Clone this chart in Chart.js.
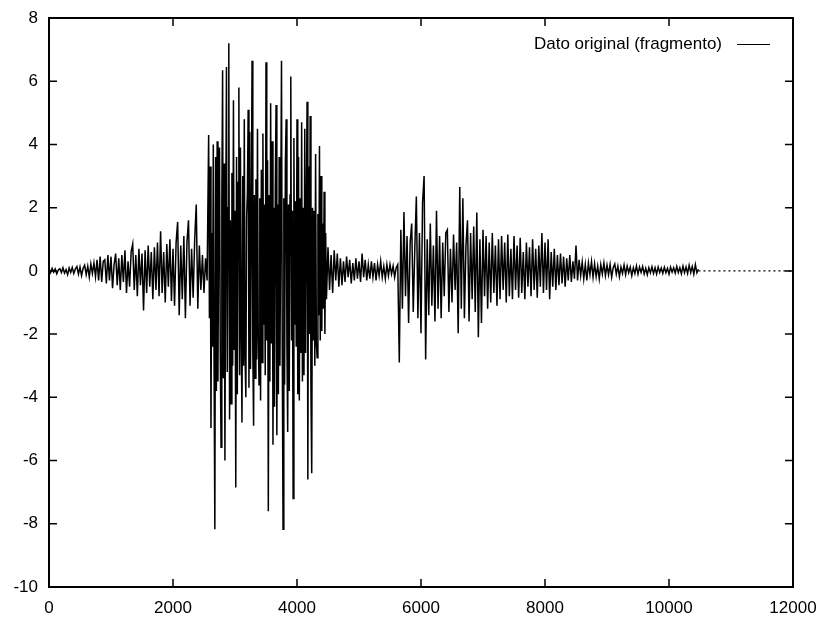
<!DOCTYPE html>
<html lang="es">
<head>
<meta charset="UTF-8">
<title>Dato original (fragmento)</title>
<script src="https://cdn.jsdelivr.net/npm/chart.js"></script>
<style>
    body { margin: 0; background: #fff; }
    #caja { width: 823px; height: 619px; }
</style>
</head>
<body>
<div id="caja"><canvas id="senalChart"></canvas></div>

<script>
    const finEje = 12000;

    // 0 .. 875, cada 25
    const silencioInicial = [
        0.05, -0.06, 0.08, -0.04, 0.06, -0.09, 0.03, 0.07, -0.05, 0.1,
        -0.07, 0.04, -0.12, 0.09, -0.05, 0.11, -0.08, 0.06, 0.14, -0.1,
        0.12, -0.15, 0.08, 0.18, -0.12, 0.15, -0.2, 0.22, -0.08, 0.25,
        -0.18, 0.35, -0.3, 0.45, -0.35, 0.3
    ];
    // 900 .. 2550, cada 25
    const fricativa = [
        0.35, -0.4, 0.5, -0.3, 0.45, -0.55, 0.2, 0.55, -0.45, 0.4,
        -0.6, 0.5, -0.35, 0.65, -0.7, 0.3, -0.5, 0.6, 0.85, -0.6,
        0.5, -0.8, 0.7, -0.45, 0.55, -1.25, 0.65, -0.7, 0.8, -0.5,
        0.6, -0.9, 0.75, -0.6, 0.9, -0.8, 1.25, -0.7, 0.6, -1.0,
        0.85, -0.5, 1.0, -0.95, 0.7, -1.1, 0.9, 1.55, -1.4, 0.8,
        -0.9, 1.1, -1.5, 0.9, 1.6, -1.1, 0.7, -0.85, 1.0, 2.1,
        -1.2, 0.8, -0.6, 0.5, -0.7, 0.4, -0.3
    ];
    // 2575 .. 4475, cada 12.5
    const vocalA = [
        4.3, -1.5, 3.3, -4.97, 1.2, -2.4, 4.0, -3.0,
        -8.17, 3.6, -3.8, 4.1, -3.5, 1.8, 3.9, -2.6,
        -5.58, 2.2, 6.35, -3.4, 3.4, -6.0, 1.4, 6.45,
        -3.2, 2.0, 7.2, -4.7, 1.6, -4.2, 3.1, -3.0,
        5.4, -2.5, 1.9, -6.85, 3.6, -3.9, 2.8, 5.8,
        -3.3, 3.9, -1.8, -4.8, 3.0, -3.0, 4.8, -2.7,
        -4.0, 1.7, 2.5, 5.1, -3.7, 4.4, -3.1, 1.5,
        6.65, -2.6, -4.9, 2.4, -3.4, 2.9, -2.8, 4.5,
        -2.0, -3.6, 2.3, -4.1, 3.2, -2.9, 4.35, -1.7,
        2.1, -3.3, 6.6, -2.2, 3.5, -7.6, 2.4, -3.5,
        5.3, -2.3, 4.1, -5.5, 2.0, -4.3, 2.6, 5.25,
        -5.2, 2.1, -3.9, 3.6, -3.0, 1.8, 6.65, -2.5,
        -8.17, 2.3, -3.6, 3.4, 4.8, -2.4, -5.1, 2.1,
        -3.8, 2.4, 6.15, -2.2, 1.9, -7.2, 4.2, -1.7,
        2.2, -2.4, 4.8, -3.9, 3.6, -4.1, 2.3, -2.6,
        4.7, -3.5, 2.0, -3.3, 4.5, -2.6, 1.9, 5.35,
        -6.6, 3.3, -2.0, 4.9, -3.8, -6.4, 2.0, -2.2,
        1.9, -3.0, 3.7, -2.3, -2.75, 1.8, -1.4, 3.95,
        -2.2, 3.0, -1.9, 1.5, -1.2, 2.5, -2.0, 1.2,
        -0.9
    ];
    // 4500 .. 5600, cada 25
    const transicion = [
        0.75, -0.6, 0.5, -0.7, 0.65, -0.3, 0.55, -0.5, 0.4,
        -0.45, 0.3, -0.35, 0.45, -0.2, 0.35, -0.4, 0.25, -0.3, 0.4,
        -0.25, 0.3, -0.35, 0.55, -0.2, 0.35, -0.3, 0.2, -0.25, 0.3,
        -0.2, 0.25, -0.3, 0.2, -0.15, 0.3, -0.2, 0.15, -0.25, 0.2,
        -0.15, 0.2, -0.1, 0.15, -0.2, 0.1
    ];
    // 5625 .. 8500, cada 25
    const vocalB = [
        0.2, -2.9, 1.3, -1.2, 1.86, -0.8, 1.1, -1.65, 0.9, 1.5,
        -1.3, 0.7, 2.35, -1.5, 1.2, -1.97, 2.15, 3.0, -2.8, 1.0,
        -1.4, 1.5, -1.1, 0.8, -1.6, 1.9, -1.2, 1.1, -1.5, 0.9,
        -0.8, 1.2, 1.3, -1.3, 0.7, -1.0, 1.15, -0.6, 0.9, -1.97,
        2.65, -1.2, 2.3, -1.5, 0.8, 1.6, -1.6, 1.2, -0.9, 1.4,
        -1.3, 1.85, -2.1, 1.0, -1.65, 1.3, -0.8, 1.1, -1.2, 0.9,
        -1.0, 1.2, -0.7, 0.8, -1.1, 1.0, -0.9, 1.1, -0.6, 0.9,
        -1.0, 1.15, -0.8, 0.7, -0.9, 1.1, -0.6, 0.8, -0.85, 1.05,
        -0.7, 0.6, -0.9, 0.9, -0.5, 0.75, -0.8, 1.0, -0.6, 0.7,
        -0.85, 0.8, -0.5, 1.2, -0.7, 0.9, -0.6, 1.0, -0.9, 0.6,
        -0.5, 0.7, -0.6, 0.5, -0.45, 0.55, -0.4, 0.45, -0.5, 0.4,
        -0.3, 0.5, -0.35, 0.3, -0.25, 0.8
    ];
    // 8525 .. 10475, cada 25
    const cola = [
        -0.3, 0.35, -0.15, 0.28, -0.25, 0.2, -0.3, 0.25, -0.12, 0.3,
        -0.2, 0.22, -0.18, 0.15, -0.25, 0.2, -0.1, 0.25, -0.15, 0.18,
        -0.12, 0.2, -0.2, 0.1, 0.22, -0.1, 0.15, -0.18, 0.12, -0.08,
        0.18, -0.12, 0.15, -0.06, 0.12, -0.15, 0.1, -0.08, 0.16, -0.1,
        0.12, -0.05, 0.14, -0.1, 0.08, -0.12, 0.1, -0.06, 0.13, -0.08,
        0.1, -0.1, 0.12, -0.05, 0.09, -0.08, 0.11, -0.06, 0.08, -0.1,
        0.12, -0.04, 0.1, -0.07, 0.14, -0.05, 0.1, -0.09, 0.15, -0.06,
        0.12, -0.08, 0.18, -0.05, 0.14, -0.1, 0.2, -0.06, 0.05
    ];

    // [muestra inicial, separación, valores]
    const tramos = [
        [0, 25, silencioInicial],
        [900, 25, fricativa],
        [2575, 12.5, vocalA],
        [4500, 25, transicion],
        [5625, 25, vocalB],
        [8525, 25, cola]
    ];

    const puntos = tramos.flatMap(([inicio, paso, valores]) =>
        valores.map((v, i) => ({ x: inicio + i * paso, y: v })));
    const ultimo = puntos[puntos.length - 1].x;
    const relleno = [{ x: ultimo, y: 0 }, { x: finEje, y: 0 }];

    const fuente = { family: '"Liberation Sans", Helvetica, Arial, sans-serif', size: 17 };

    // marco cerrado, marcas hacia dentro en los cuatro lados y leyenda arriba a la derecha
    const marco = {
        id: 'marco',
        afterDatasetsDraw(chart) {
            const { ctx, chartArea: a, scales: { x, y } } = chart;
            ctx.save();
            ctx.strokeStyle = '#000';
            ctx.lineWidth = 2;
            ctx.strokeRect(a.left, a.top, a.right - a.left, a.bottom - a.top);

            ctx.lineWidth = 1.5;
            ctx.beginPath();
            x.ticks.forEach(t => {
                const px = x.getPixelForValue(t.value);
                ctx.moveTo(px, a.bottom); ctx.lineTo(px, a.bottom - 8);
                ctx.moveTo(px, a.top); ctx.lineTo(px, a.top + 8);
            });
            y.ticks.forEach(t => {
                const py = y.getPixelForValue(t.value);
                ctx.moveTo(a.left, py); ctx.lineTo(a.left + 8, py);
                ctx.moveTo(a.right, py); ctx.lineTo(a.right - 8, py);
            });
            ctx.stroke();

            const etiqueta = chart.data.datasets[0].label;
            const yl = Math.round(a.top + 26) + 0.5;
            const xl = a.right - 71;
            ctx.font = fuente.size + 'px ' + fuente.family;
            ctx.fillStyle = '#000';
            ctx.textAlign = 'right';
            ctx.textBaseline = 'middle';
            ctx.fillText(etiqueta, xl, yl);
            ctx.lineWidth = 1;
            ctx.beginPath();
            ctx.moveTo(xl + 15, yl);
            ctx.lineTo(xl + 48, yl);
            ctx.stroke();
            ctx.restore();
        }
    };

    new Chart(document.getElementById('senalChart'), {
        type: 'line',
        data: {
            datasets: [{
                label: 'Dato original (fragmento)',
                data: puntos,
                borderColor: '#000',
                borderWidth: 1.5,
                pointRadius: 0,
                tension: 0
            }, {
                label: 'resto',
                data: relleno,
                borderColor: '#000',
                borderWidth: 1.2,
                borderDash: [2, 3],
                pointRadius: 0
            }]
        },
        options: {
            responsive: true,
            maintainAspectRatio: false,
            animation: false,
            parsing: false,
            layout: { padding: { top: 18, right: 30, left: 0, bottom: 0 } },
            plugins: {
                legend: { display: false },
                tooltip: { enabled: false }
            },
            scales: {
                x: {
                    type: 'linear',
                    min: 0,
                    max: finEje,
                    grid: { display: false, drawTicks: false },
                    border: { display: false },
                    ticks: {
                        stepSize: 2000, color: '#000', font: fuente, padding: 11, maxRotation: 0,
                        callback: v => String(v)
                    },
                    afterFit: s => { s.height = 32; s.paddingLeft = 0; s.paddingRight = 0; }
                },
                y: {
                    min: -10,
                    max: 8,
                    grid: { display: false, drawTicks: false },
                    border: { display: false },
                    ticks: { stepSize: 2, color: '#000', font: fuente, padding: 11, callback: v => String(v) },
                    afterFit: s => { s.width = 49; s.paddingTop = 0; s.paddingBottom = 0; }
                }
            }
        },
        plugins: [marco]
    });
</script>
</body>
</html>
